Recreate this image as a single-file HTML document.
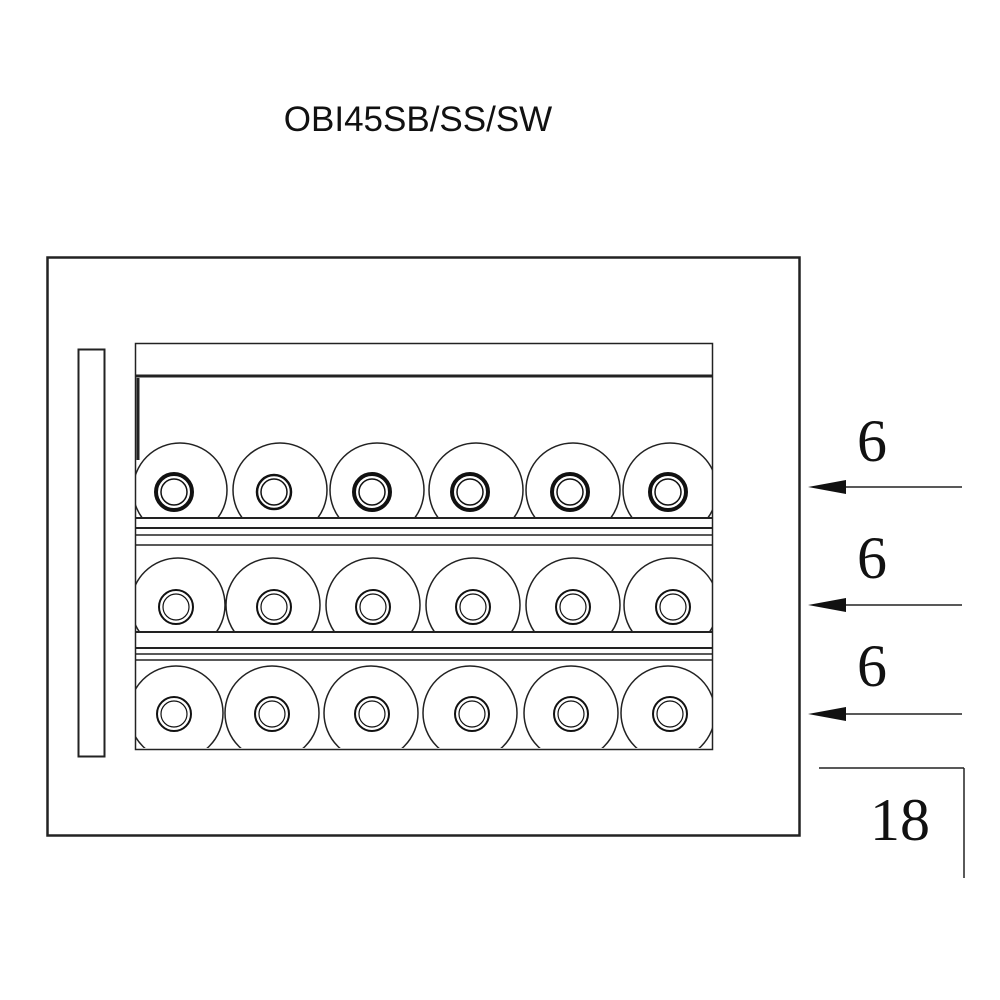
<!DOCTYPE html>
<html><head><style>body{margin:0;background:#fff}svg{display:block}</style></head><body>
<svg width="1000" height="1000" viewBox="0 0 1000 1000" xmlns="http://www.w3.org/2000/svg">
<defs><clipPath id="c1"><rect x="136" y="378" width="576" height="140"/></clipPath>
<clipPath id="c2"><rect x="136" y="545" width="576" height="87"/></clipPath>
<clipPath id="c3"><rect x="136" y="660" width="576" height="88"/></clipPath></defs>
<text x="418" y="131" font-family="Liberation Sans, sans-serif" font-size="35" text-anchor="middle" fill="#111">OBI45SB/SS/SW</text>
<g fill="none" stroke="#222">
<rect x="47.5" y="257.5" width="752" height="578" stroke-width="2.5"/>
<rect x="78.5" y="349.5" width="26" height="407" stroke-width="2"/>
<rect x="135.5" y="343.5" width="577" height="406" stroke-width="1.5"/>
<line x1="135" y1="376" x2="712" y2="376" stroke-width="3"/>
<line x1="138" y1="378" x2="138" y2="460" stroke-width="3"/>
<line x1="135" y1="518" x2="712" y2="518" stroke-width="2"/>
<line x1="135" y1="528" x2="712" y2="528" stroke-width="2"/>
<line x1="135" y1="535" x2="712" y2="535" stroke-width="1.5"/>
<line x1="135" y1="545" x2="712" y2="545" stroke-width="1.5"/>
<line x1="135" y1="632" x2="712" y2="632" stroke-width="2"/>
<line x1="135" y1="648" x2="712" y2="648" stroke-width="2"/>
<line x1="135" y1="654" x2="712" y2="654" stroke-width="1.5"/>
<line x1="135" y1="660" x2="712" y2="660" stroke-width="1.5"/>
</g>
<g fill="none" stroke="#222" stroke-width="1.5">
<g clip-path="url(#c1)">
<circle cx="180" cy="490" r="47"/><circle cx="280" cy="490" r="47"/><circle cx="377" cy="490" r="47"/><circle cx="476" cy="490" r="47"/><circle cx="573" cy="490" r="47"/><circle cx="670" cy="490" r="47"/>
</g>
<g clip-path="url(#c2)">
<circle cx="178" cy="605" r="47"/><circle cx="273" cy="605" r="47"/><circle cx="373" cy="605" r="47"/><circle cx="473" cy="605" r="47"/><circle cx="573" cy="605" r="47"/><circle cx="671" cy="605" r="47"/>
</g>
<g clip-path="url(#c3)">
<circle cx="176" cy="713" r="47"/><circle cx="272" cy="713" r="47"/><circle cx="371" cy="713" r="47"/><circle cx="470" cy="713" r="47"/><circle cx="571" cy="713" r="47"/><circle cx="668" cy="713" r="47"/>
</g>
</g>
<g fill="none" stroke="#111">
<g stroke-width="4">
<circle cx="174" cy="492" r="18"/><circle cx="372" cy="492" r="18"/><circle cx="470" cy="492" r="18"/><circle cx="570" cy="492" r="18"/><circle cx="668" cy="492" r="18"/>
</g>
<circle cx="274" cy="492" r="17" stroke-width="2.5"/>
<g stroke-width="1.5">
<circle cx="174" cy="492" r="13"/><circle cx="274" cy="492" r="13"/><circle cx="372" cy="492" r="13"/><circle cx="470" cy="492" r="13"/><circle cx="570" cy="492" r="13"/><circle cx="668" cy="492" r="13"/>
</g>
<g stroke-width="2">
<circle cx="176" cy="607" r="17"/><circle cx="274" cy="607" r="17"/><circle cx="373" cy="607" r="17"/><circle cx="473" cy="607" r="17"/><circle cx="573" cy="607" r="17"/><circle cx="673" cy="607" r="17"/>
<circle cx="174" cy="714" r="17"/><circle cx="272" cy="714" r="17"/><circle cx="372" cy="714" r="17"/><circle cx="472" cy="714" r="17"/><circle cx="571" cy="714" r="17"/><circle cx="670" cy="714" r="17"/>
</g>
<g stroke-width="1.2">
<circle cx="176" cy="607" r="13"/><circle cx="274" cy="607" r="13"/><circle cx="373" cy="607" r="13"/><circle cx="473" cy="607" r="13"/><circle cx="573" cy="607" r="13"/><circle cx="673" cy="607" r="13"/>
<circle cx="174" cy="714" r="13"/><circle cx="272" cy="714" r="13"/><circle cx="372" cy="714" r="13"/><circle cx="472" cy="714" r="13"/><circle cx="571" cy="714" r="13"/><circle cx="670" cy="714" r="13"/>
</g>
</g>
<g stroke="#222" stroke-width="1.5">
<line x1="840" y1="487" x2="962" y2="487"/>
<line x1="840" y1="605" x2="962" y2="605"/>
<line x1="840" y1="714" x2="962" y2="714"/>
<line x1="819" y1="768" x2="964" y2="768"/>
<line x1="964" y1="768" x2="964" y2="878"/>
</g>
<g fill="#111">
<polygon points="808,487 846,480 846,494"/>
<polygon points="808,605 846,598 846,612"/>
<polygon points="808,714 846,707 846,721"/>
</g>
<g font-family="Liberation Serif, serif" font-size="60" fill="#111" text-anchor="middle">
<text x="872" y="461">6</text>
<text x="872" y="578">6</text>
<text x="872" y="686">6</text>
<text x="900" y="840">18</text>
</g>
</svg>
</body></html>
